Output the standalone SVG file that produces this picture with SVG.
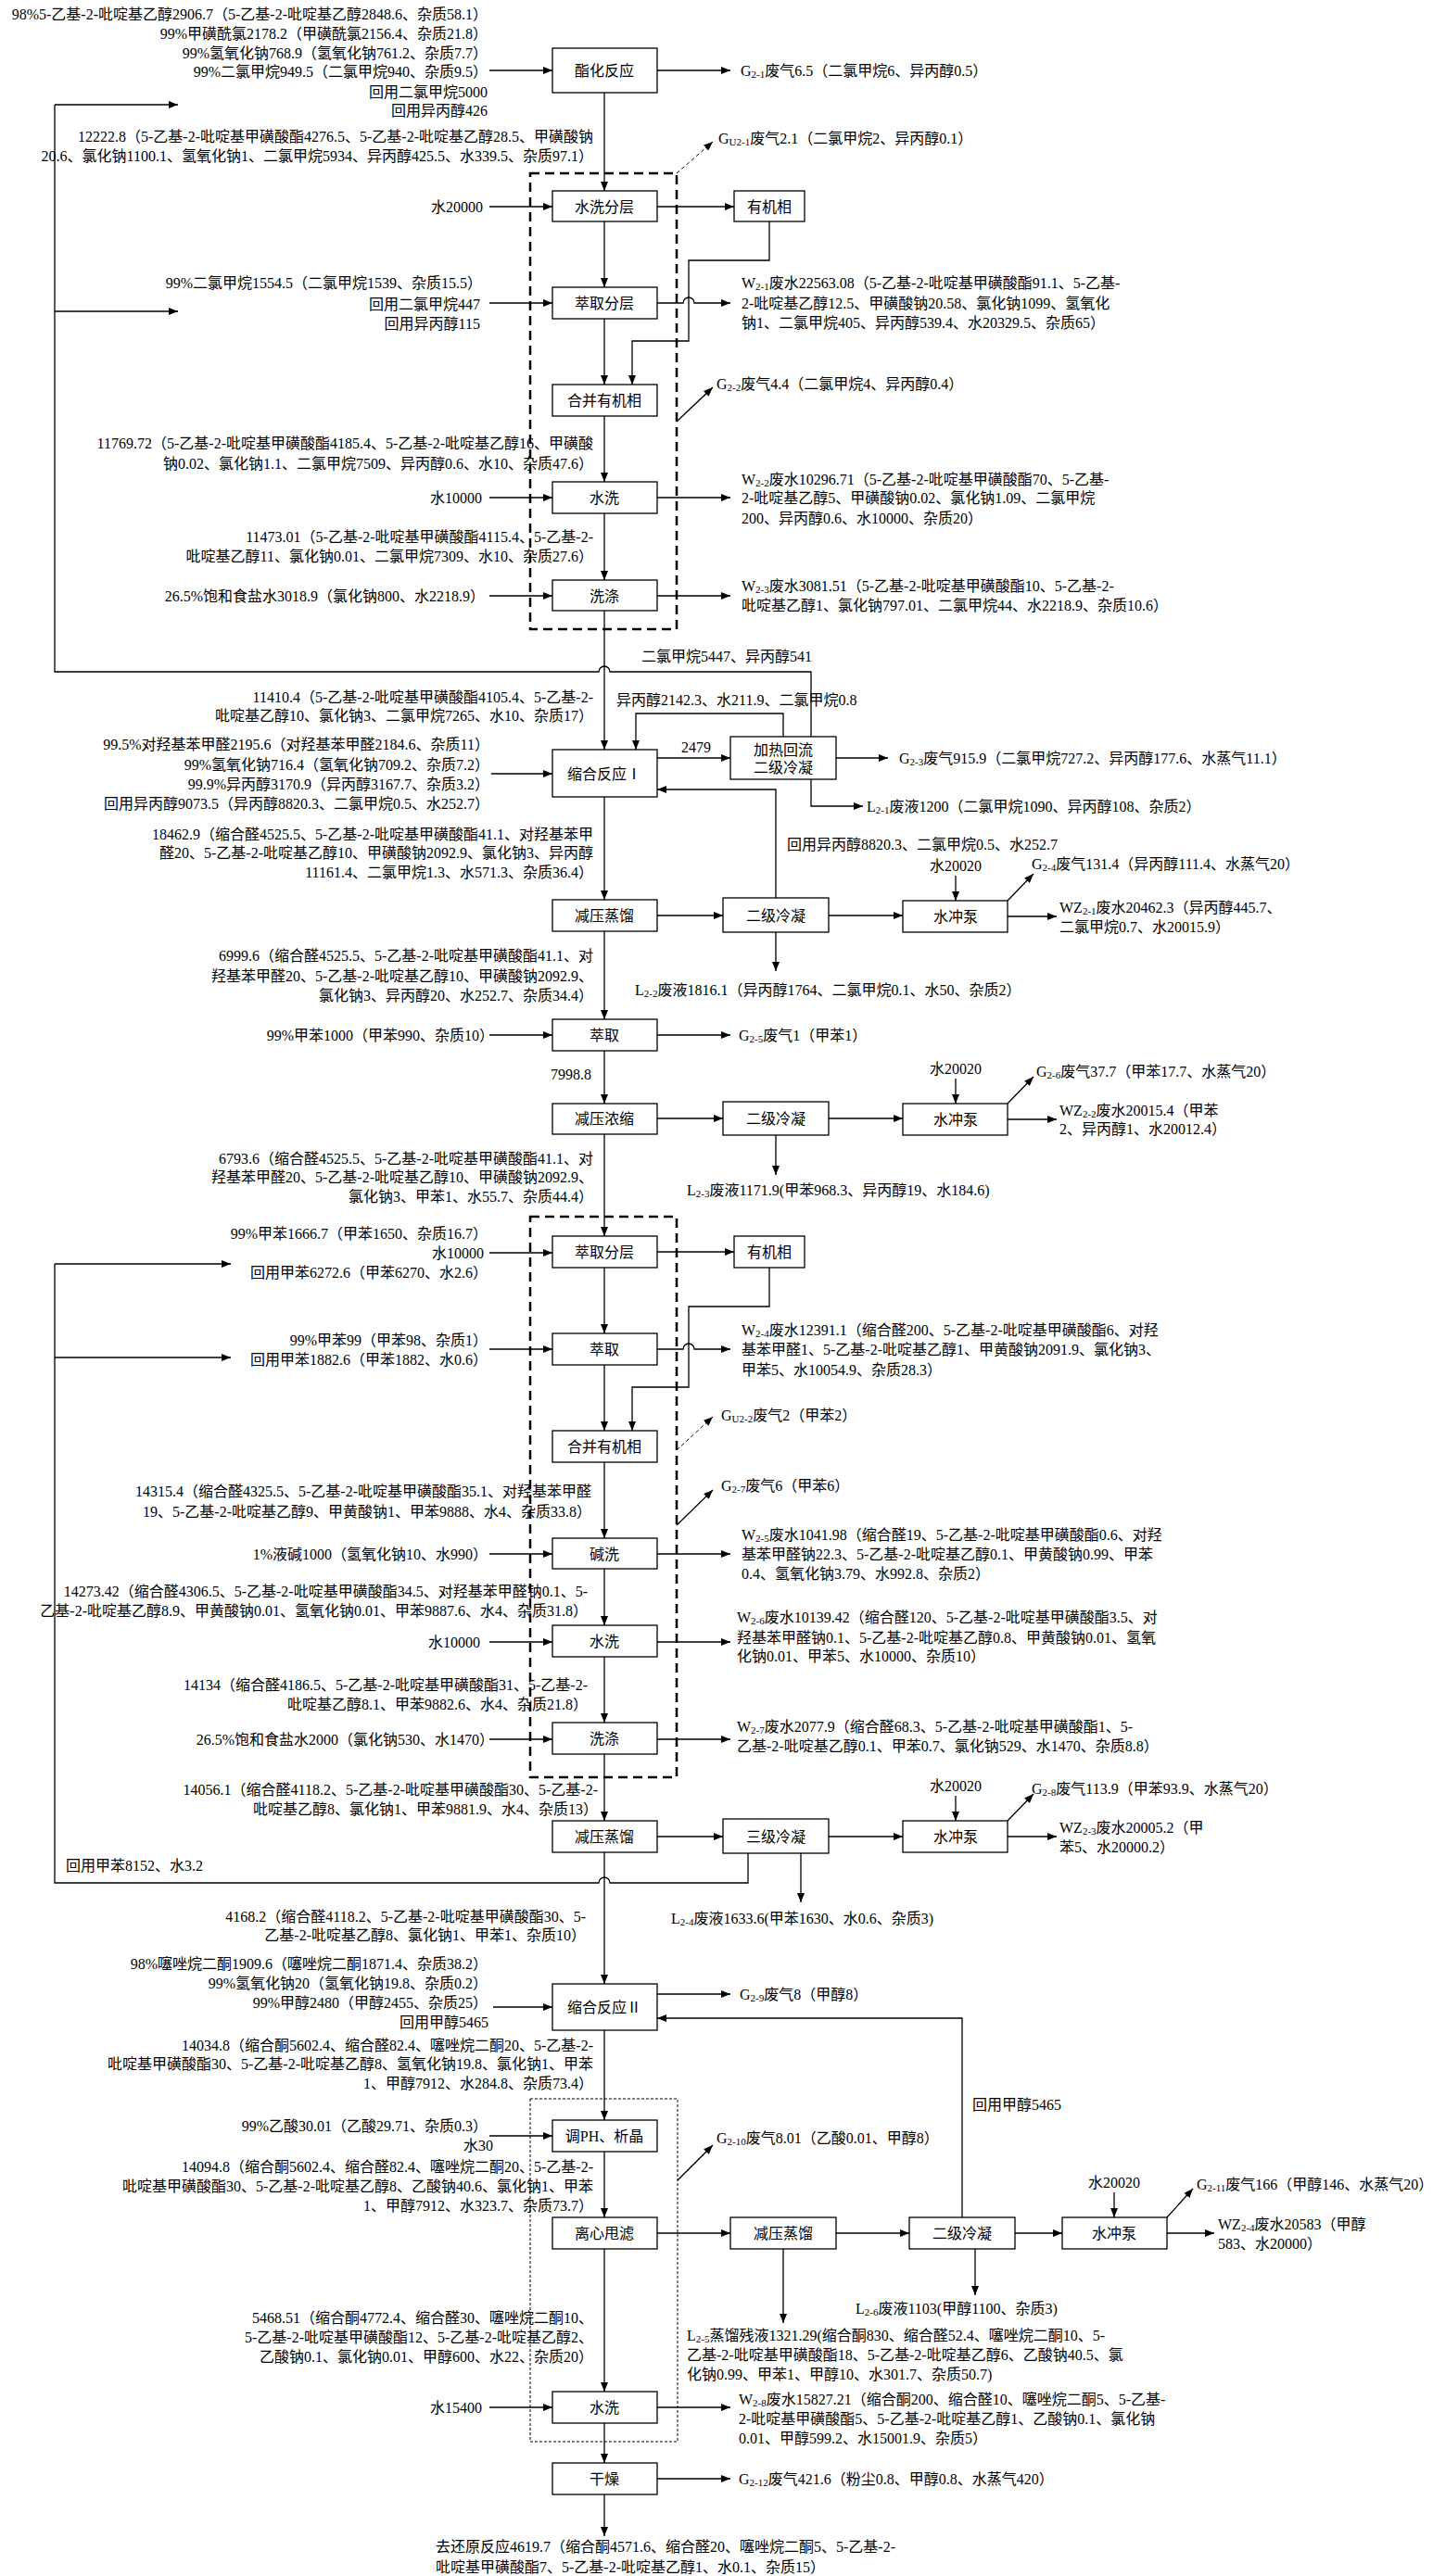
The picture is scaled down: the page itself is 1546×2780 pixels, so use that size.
<svg xmlns="http://www.w3.org/2000/svg" width="1546" height="2780" viewBox="0 0 1546 2780">
<style>
text{font-family:'Liberation Serif','Noto Sans CJK SC',serif;font-size:16px;fill:#000;dominant-baseline:central}
.e{text-anchor:end}
.m{text-anchor:middle}
.s{font-size:11px}
.box{fill:#fff;stroke:#000;stroke-width:1.3}
.ln{fill:none;stroke:#000;stroke-width:1.3}
.ar{marker-end:url(#ah)}
.dl{stroke-dasharray:4 3;stroke-width:1}
.dbox{fill:none;stroke:#000;stroke-width:2.5;stroke-dasharray:10 6}
.dot{fill:none;stroke:#000;stroke-width:1;stroke-dasharray:3 2}
</style>
<defs>
<marker id="ah" markerUnits="userSpaceOnUse" markerWidth="10" markerHeight="8" refX="10" refY="4" orient="auto"><path d="M0,0 L10,4 L0,8 z" fill="#000"/></marker>
</defs>
<rect width="1546" height="2780" fill="#fff"/>

<g id="frames">
<rect class="dbox" x="572" y="187" width="158" height="492"/>
<rect class="dbox" x="572" y="1313" width="158" height="605"/>
<rect class="dot" x="572" y="2265" width="159" height="370"/>
</g>

<g id="connectors">
<!-- main column -->
<path class="ln ar" d="M652,100 V206"/>
<path class="ln ar" d="M652,239 V310"/>
<path class="ln ar" d="M652,344 V415"/>
<path class="ln ar" d="M652,449 V520"/>
<path class="ln ar" d="M652,554 V626"/>
<path class="ln ar" d="M652,659 V809"/>
<path class="ln ar" d="M652,860 V971"/>
<path class="ln ar" d="M652,1005 V1100"/>
<path class="ln ar" d="M652,1134 V1191"/>
<path class="ln ar" d="M652,1224 V1334"/>
<path class="ln ar" d="M652,1368 V1439"/>
<path class="ln ar" d="M652,1473 V1544"/>
<path class="ln ar" d="M652,1578 V1660"/>
<path class="ln ar" d="M652,1693 V1754"/>
<path class="ln ar" d="M652,1788 V1859"/>
<path class="ln ar" d="M652,1893 V1965"/>
<path class="ln ar" d="M652,1999 V2141"/>
<path class="ln ar" d="M652,2191 V2288"/>
<path class="ln ar" d="M652,2322 V2393"/>
<path class="ln ar" d="M652,2427 V2581"/>
<path class="ln ar" d="M652,2615 V2658"/>
<path class="ln ar" d="M652,2692 V2737"/>
<!-- inputs -->
<path class="ln ar" d="M528,76 H596"/>
<path class="ln ar" d="M528,223 H596"/>
<path class="ln ar" d="M528,327 H596"/>
<path class="ln ar" d="M528,537 H596"/>
<path class="ln ar" d="M528,643 H596"/>
<path class="ln ar" d="M530,835 H596"/>
<path class="ln ar" d="M528,1117 H596"/>
<path class="ln ar" d="M528,1352 H596"/>
<path class="ln ar" d="M528,1456 H596"/>
<path class="ln ar" d="M528,1677 H596"/>
<path class="ln ar" d="M528,1772 H596"/>
<path class="ln ar" d="M528,1877 H596"/>
<path class="ln ar" d="M532,2166 H596"/>
<path class="ln ar" d="M528,2305 H596"/>
<path class="ln ar" d="M528,2598 H596"/>
<!-- outputs -->
<path class="ln ar" d="M709,76 H788"/>
<path class="ln ar" d="M709,223 H792"/>
<path class="ln ar" d="M709,327 H737 A6,6 0 0 1 749,327 H788"/>
<path class="ln ar" d="M709,537 H788"/>
<path class="ln ar" d="M709,643 H788"/>
<path class="ln ar" d="M709,818 H788"/>
<path class="ln ar" d="M709,988 H780"/>
<path class="ln ar" d="M894,988 H974"/>
<path class="ln ar" d="M709,1117 H788"/>
<path class="ln ar" d="M709,1207 H780"/>
<path class="ln ar" d="M894,1207 H974"/>
<path class="ln ar" d="M709,1351 H792"/>
<path class="ln ar" d="M709,1456 H737 A6,6 0 0 1 749,1456 H788"/>
<path class="ln ar" d="M709,1677 H788"/>
<path class="ln ar" d="M709,1772 H788"/>
<path class="ln ar" d="M709,1877 H788"/>
<path class="ln ar" d="M709,1982 H780"/>
<path class="ln ar" d="M894,1982 H974"/>
<path class="ln ar" d="M709,2152 H788"/>
<path class="ln ar" d="M709,2410 H788"/>
<path class="ln ar" d="M902,2410 H981"/>
<path class="ln ar" d="M1095,2410 H1146"/>
<path class="ln ar" d="M709,2598 H788"/>
<path class="ln ar" d="M709,2675 H788"/>
<!-- organic phase returns -->
<path class="ln ar" d="M830,239 V281 H743 V368 H682 V415"/>
<path class="ln ar" d="M830,1368 V1410 H743 V1497 H682 V1544"/>
<!-- gas arrows -->
<path class="ln ar dl" d="M730,187 L769,153"/>
<path class="ln ar" d="M730,455 L769,418"/>
<path class="ln ar dl" d="M730,1565 L769,1529"/>
<path class="ln ar" d="M730,1646 L769,1608"/>
<path class="ln ar" d="M731,2353 L769,2315"/>
<!-- reflux section -->
<path class="ln" d="M875,795 V725 H658 A6,6 0 0 0 646,725 H59 V113"/>
<path class="ln ar" d="M59,113 H192"/>
<path class="ln ar" d="M59,336 H192"/>
<path class="ln ar" d="M845,795 V770 H686 V809"/>
<path class="ln ar" d="M875,841 V870 H931"/>
<path class="ln ar" d="M902,818 H958"/>
<path class="ln ar" d="M837,969 V852 H709"/>
<!-- pump 1 -->
<path class="ln ar" d="M1031,945 V972"/>
<path class="ln ar" d="M1087,972 L1115,943"/>
<path class="ln ar" d="M1087,989 H1140"/>
<path class="ln ar" d="M837,1006 V1048"/>
<!-- pump 2 -->
<path class="ln ar" d="M1031,1164 V1191"/>
<path class="ln ar" d="M1087,1191 L1115,1162"/>
<path class="ln ar" d="M1087,1208 H1140"/>
<path class="ln ar" d="M837,1225 V1268"/>
<!-- pump 3 / toluene recycle -->
<path class="ln ar" d="M1031,1938 V1965"/>
<path class="ln ar" d="M1087,1965 L1115,1936"/>
<path class="ln ar" d="M1087,1982 H1140"/>
<path class="ln ar" d="M864,2000 V2053"/>
<path class="ln" d="M807,2000 V2032 H658 A6,6 0 0 0 646,2032 H59 V1364"/>
<path class="ln ar" d="M59,1364 H249"/>
<path class="ln ar" d="M59,1465 H249"/>
<!-- pump 4 / methanol recycle -->
<path class="ln ar" d="M1202,2366 V2393"/>
<path class="ln ar" d="M1259,2393 L1287,2362"/>
<path class="ln ar" d="M1259,2410 H1310"/>
<path class="ln ar" d="M1052,2427 V2477"/>
<path class="ln ar" d="M845,2427 V2507"/>
<path class="ln ar" d="M1038,2393 V2178 H709"/>
</g>

<g id="n1"><rect class="box" x="596" y="52" width="113" height="48"/><text class="m" x="652" y="76">酯化反应</text></g>
<g id="n2"><rect class="box" x="596" y="206" width="113" height="33"/><text class="m" x="652" y="223">水洗分层</text></g>
<g id="n3"><rect class="box" x="792" y="206" width="76" height="33"/><text class="m" x="830" y="223">有机相</text></g>
<g id="n4"><rect class="box" x="596" y="310" width="113" height="34"/><text class="m" x="652" y="327">萃取分层</text></g>
<g id="n5"><rect class="box" x="596" y="415" width="113" height="34"/><text class="m" x="652" y="432">合并有机相</text></g>
<g id="n6"><rect class="box" x="596" y="520" width="113" height="34"/><text class="m" x="652" y="537">水洗</text></g>
<g id="n7"><rect class="box" x="596" y="626" width="113" height="33"/><text class="m" x="652" y="643">洗涤</text></g>
<g id="n8"><rect class="box" x="596" y="809" width="113" height="51"/><text class="m" x="652" y="835">缩合反应Ⅰ</text></g>
<g id="n9"><rect class="box" x="788" y="795" width="114" height="46"/><text class="m" x="845" y="809">加热回流</text><text class="m" x="845" y="828">二级冷凝</text></g>
<g id="n10"><rect class="box" x="596" y="971" width="113" height="34"/><text class="m" x="652" y="988">减压蒸馏</text></g>
<g id="n11"><rect class="box" x="780" y="969" width="114" height="37"/><text class="m" x="837" y="988">二级冷凝</text></g>
<g id="n12"><rect class="box" x="974" y="972" width="113" height="34"/><text class="m" x="1031" y="989">水冲泵</text></g>
<g id="n13"><rect class="box" x="596" y="1100" width="113" height="34"/><text class="m" x="652" y="1117">萃取</text></g>
<g id="n14"><rect class="box" x="596" y="1191" width="113" height="33"/><text class="m" x="652" y="1207">减压浓缩</text></g>
<g id="n15"><rect class="box" x="780" y="1189" width="114" height="36"/><text class="m" x="837" y="1207">二级冷凝</text></g>
<g id="n16"><rect class="box" x="974" y="1191" width="113" height="34"/><text class="m" x="1031" y="1208">水冲泵</text></g>
<g id="n17"><rect class="box" x="596" y="1334" width="113" height="34"/><text class="m" x="652" y="1351">萃取分层</text></g>
<g id="n18"><rect class="box" x="792" y="1334" width="76" height="34"/><text class="m" x="830" y="1351">有机相</text></g>
<g id="n19"><rect class="box" x="596" y="1439" width="113" height="34"/><text class="m" x="652" y="1456">萃取</text></g>
<g id="n20"><rect class="box" x="596" y="1544" width="113" height="34"/><text class="m" x="652" y="1561">合并有机相</text></g>
<g id="n21"><rect class="box" x="596" y="1660" width="113" height="33"/><text class="m" x="652" y="1677">碱洗</text></g>
<g id="n22"><rect class="box" x="596" y="1754" width="113" height="34"/><text class="m" x="652" y="1771">水洗</text></g>
<g id="n23"><rect class="box" x="596" y="1859" width="113" height="34"/><text class="m" x="652" y="1876">洗涤</text></g>
<g id="n24"><rect class="box" x="596" y="1965" width="113" height="34"/><text class="m" x="652" y="1982">减压蒸馏</text></g>
<g id="n25"><rect class="box" x="780" y="1963" width="114" height="37"/><text class="m" x="837" y="1982">三级冷凝</text></g>
<g id="n26"><rect class="box" x="974" y="1965" width="113" height="34"/><text class="m" x="1031" y="1982">水冲泵</text></g>
<g id="n27"><rect class="box" x="596" y="2141" width="113" height="50"/><text class="m" x="652" y="2166">缩合反应Ⅱ</text></g>
<g id="n28"><rect class="box" x="596" y="2288" width="113" height="34"/><text class="m" x="652" y="2305">调PH、析晶</text></g>
<g id="n29"><rect class="box" x="596" y="2393" width="113" height="34"/><text class="m" x="652" y="2410">离心甩滤</text></g>
<g id="n30"><rect class="box" x="788" y="2393" width="114" height="34"/><text class="m" x="845" y="2410">减压蒸馏</text></g>
<g id="n31"><rect class="box" x="981" y="2393" width="114" height="34"/><text class="m" x="1038" y="2410">二级冷凝</text></g>
<g id="n32"><rect class="box" x="1146" y="2393" width="113" height="34"/><text class="m" x="1202" y="2410">水冲泵</text></g>
<g id="n33"><rect class="box" x="596" y="2581" width="113" height="34"/><text class="m" x="652" y="2598">水洗</text></g>
<g id="n34"><rect class="box" x="596" y="2658" width="113" height="34"/><text class="m" x="652" y="2675">干燥</text></g>

<g id="labels-left">
<text class="e" x="526" y="15">98%5-乙基-2-吡啶基乙醇2906.7（5-乙基-2-吡啶基乙醇2848.6、杂质58.1）</text>
<text class="e" x="526" y="36">99%甲磺酰氯2178.2（甲磺酰氯2156.4、杂质21.8）</text>
<text class="e" x="526" y="57">99%氢氧化钠768.9（氢氧化钠761.2、杂质7.7）</text>
<text class="e" x="526" y="77">99%二氯甲烷949.5（二氯甲烷940、杂质9.5）</text>
<text class="e" x="526" y="99">回用二氯甲烷5000</text>
<text class="e" x="526" y="119">回用异丙醇426</text>
<text class="e" x="640" y="147">12222.8（5-乙基-2-吡啶基甲磺酸酯4276.5、5-乙基-2-吡啶基乙醇28.5、甲磺酸钠</text>
<text class="e" x="640" y="168">20.6、氯化钠1100.1、氢氧化钠1、二氯甲烷5934、异丙醇425.5、水339.5、杂质97.1）</text>
<text class="e" x="521" y="223">水20000</text>
<text class="e" x="520" y="305">99%二氯甲烷1554.5（二氯甲烷1539、杂质15.5）</text>
<text class="e" x="518" y="328">回用二氯甲烷447</text>
<text class="e" x="518" y="349">回用异丙醇115</text>
<text class="e" x="640" y="478">11769.72（5-乙基-2-吡啶基甲磺酸酯4185.4、5-乙基-2-吡啶基乙醇16、甲磺酸</text>
<text class="e" x="640" y="500">钠0.02、氯化钠1.1、二氯甲烷7509、异丙醇0.6、水10、杂质47.6）</text>
<text class="e" x="520" y="537">水10000</text>
<text class="e" x="640" y="579">11473.01（5-乙基-2-吡啶基甲磺酸酯4115.4、5-乙基-2-</text>
<text class="e" x="640" y="600">吡啶基乙醇11、氯化钠0.01、二氯甲烷7309、水10、杂质27.6）</text>
<text class="e" x="523" y="643">26.5%饱和食盐水3018.9（氯化钠800、水2218.9）</text>
<text x="692" y="708">二氯甲烷5447、异丙醇541</text>
<text class="e" x="640" y="752">11410.4（5-乙基-2-吡啶基甲磺酸酯4105.4、5-乙基-2-</text>
<text class="e" x="640" y="772">吡啶基乙醇10、氯化钠3、二氯甲烷7265、水10、杂质17）</text>
<text x="665" y="755">异丙醇2142.3、水211.9、二氯甲烷0.8</text>
<text x="735" y="806">2479</text>
<text class="e" x="528" y="803">99.5%对羟基苯甲醛2195.6（对羟基苯甲醛2184.6、杂质11）</text>
<text class="e" x="528" y="825">99%氢氧化钠716.4（氢氧化钠709.2、杂质7.2）</text>
<text class="e" x="528" y="846">99.9%异丙醇3170.9（异丙醇3167.7、杂质3.2）</text>
<text class="e" x="528" y="867">回用异丙醇9073.5（异丙醇8820.3、二氯甲烷0.5、水252.7）</text>
<text class="e" x="640" y="900">18462.9（缩合醛4525.5、5-乙基-2-吡啶基甲磺酸酯41.1、对羟基苯甲</text>
<text class="e" x="640" y="920">醛20、5-乙基-2-吡啶基乙醇10、甲磺酸钠2092.9、氯化钠3、异丙醇</text>
<text class="e" x="640" y="941">11161.4、二氯甲烷1.3、水571.3、杂质36.4）</text>
<text class="e" x="640" y="1031">6999.6（缩合醛4525.5、5-乙基-2-吡啶基甲磺酸酯41.1、对</text>
<text class="e" x="640" y="1053">羟基苯甲醛20、5-乙基-2-吡啶基乙醇10、甲磺酸钠2092.9、</text>
<text class="e" x="640" y="1074">氯化钠3、异丙醇20、水252.7、杂质34.4）</text>
<text class="e" x="533" y="1117">99%甲苯1000（甲苯990、杂质10）</text>
<text x="594" y="1159">7998.8</text>
<text class="e" x="640" y="1250">6793.6（缩合醛4525.5、5-乙基-2-吡啶基甲磺酸酯41.1、对</text>
<text class="e" x="640" y="1270">羟基苯甲醛20、5-乙基-2-吡啶基乙醇10、甲磺酸钠2092.9、</text>
<text class="e" x="640" y="1291">氯化钠3、甲苯1、水55.7、杂质44.4）</text>
<text class="e" x="526" y="1331">99%甲苯1666.7（甲苯1650、杂质16.7）</text>
<text class="e" x="522" y="1352">水10000</text>
<text class="e" x="526" y="1373">回用甲苯6272.6（甲苯6270、水2.6）</text>
<text class="e" x="526" y="1446">99%甲苯99（甲苯98、杂质1）</text>
<text class="e" x="526" y="1467">回用甲苯1882.6（甲苯1882、水0.6）</text>
<text class="e" x="638" y="1609">14315.4（缩合醛4325.5、5-乙基-2-吡啶基甲磺酸酯35.1、对羟基苯甲醛</text>
<text class="e" x="638" y="1631">19、5-乙基-2-吡啶基乙醇9、甲黄酸钠1、甲苯9888、水4、杂质33.8）</text>
<text class="e" x="526" y="1677">1%液碱1000（氢氧化钠10、水990）</text>
<text class="e" x="634" y="1717">14273.42（缩合醛4306.5、5-乙基-2-吡啶基甲磺酸酯34.5、对羟基苯甲醛钠0.1、5-</text>
<text class="e" x="634" y="1738">乙基-2-吡啶基乙醇8.9、甲黄酸钠0.01、氢氧化钠0.01、甲苯9887.6、水4、杂质31.8）</text>
<text class="e" x="518" y="1772">水10000</text>
<text class="e" x="634" y="1818">14134（缩合醛4186.5、5-乙基-2-吡啶基甲磺酸酯31、5-乙基-2-</text>
<text class="e" x="634" y="1839">吡啶基乙醇8.1、甲苯9882.6、水4、杂质21.8）</text>
<text class="e" x="533" y="1877">26.5%饱和食盐水2000（氯化钠530、水1470）</text>
<text class="e" x="645" y="1931">14056.1（缩合醛4118.2、5-乙基-2-吡啶基甲磺酸酯30、5-乙基-2-</text>
<text class="e" x="645" y="1952">吡啶基乙醇8、氯化钠1、甲苯9881.9、水4、杂质13）</text>
<text x="71" y="2013">回用甲苯8152、水3.2</text>
<text class="e" x="632" y="2068">4168.2（缩合醛4118.2、5-乙基-2-吡啶基甲磺酸酯30、5-</text>
<text class="e" x="632" y="2088">乙基-2-吡啶基乙醇8、氯化钠1、甲苯1、杂质10）</text>
<text class="e" x="526" y="2119">98%噻唑烷二酮1909.6（噻唑烷二酮1871.4、杂质38.2）</text>
<text class="e" x="526" y="2140">99%氢氧化钠20（氢氧化钠19.8、杂质0.2）</text>
<text class="e" x="526" y="2161">99%甲醇2480（甲醇2455、杂质25）</text>
<text class="e" x="527" y="2182">回用甲醇5465</text>
<text class="e" x="640" y="2207">14034.8（缩合酮5602.4、缩合醛82.4、噻唑烷二酮20、5-乙基-2-</text>
<text class="e" x="640" y="2227">吡啶基甲磺酸酯30、5-乙基-2-吡啶基乙醇8、氢氧化钠19.8、氯化钠1、甲苯</text>
<text class="e" x="640" y="2248">1、甲醇7912、水284.8、杂质73.4）</text>
<text class="e" x="526" y="2294">99%乙酸30.01（乙酸29.71、杂质0.3）</text>
<text class="e" x="532" y="2315">水30</text>
<text class="e" x="640" y="2338">14094.8（缩合酮5602.4、缩合醛82.4、噻唑烷二酮20、5-乙基-2-</text>
<text class="e" x="640" y="2359">吡啶基甲磺酸酯30、5-乙基-2-吡啶基乙醇8、乙酸钠40.6、氯化钠1、甲苯</text>
<text class="e" x="640" y="2380">1、甲醇7912、水323.7、杂质73.7）</text>
<text class="e" x="640" y="2501">5468.51（缩合酮4772.4、缩合醛30、噻唑烷二酮10、</text>
<text class="e" x="640" y="2522">5-乙基-2-吡啶基甲磺酸酯12、5-乙基-2-吡啶基乙醇2、</text>
<text class="e" x="640" y="2543">乙酸钠0.1、氯化钠0.01、甲醇600、水22、杂质20）</text>
<text class="e" x="520" y="2598">水15400</text>
<text x="470" y="2748">去还原反应4619.7（缩合酮4571.6、缩合醛20、噻唑烷二酮5、5-乙基-2-</text>
<text x="470" y="2770">吡啶基甲磺酸酯7、5-乙基-2-吡啶基乙醇1、水0.1、杂质15）</text>
</g>

<g id="labels-right">
<text x="799" y="76">G<tspan class="s" dy="4">2-1</tspan><tspan dy="-4">废气6.5（二氯甲烷6、异丙醇0.5）</tspan></text>
<text x="775" y="149">G<tspan class="s" dy="4">U2-1</tspan><tspan dy="-4">废气2.1（二氯甲烷2、异丙醇0.1）</tspan></text>
<text x="800" y="305">W<tspan class="s" dy="4">2-1</tspan><tspan dy="-4">废水22563.08（5-乙基-2-吡啶基甲磺酸酯91.1、5-乙基-</tspan></text>
<text x="800" y="327">2-吡啶基乙醇12.5、甲磺酸钠20.58、氯化钠1099、氢氧化</text>
<text x="800" y="348">钠1、二氯甲烷405、异丙醇539.4、水20329.5、杂质65）</text>
<text x="773" y="414">G<tspan class="s" dy="4">2-2</tspan><tspan dy="-4">废气4.4（二氯甲烷4、异丙醇0.4）</tspan></text>
<text x="800" y="517">W<tspan class="s" dy="4">2-2</tspan><tspan dy="-4">废水10296.71（5-乙基-2-吡啶基甲磺酸酯70、5-乙基-</tspan></text>
<text x="800" y="537">2-吡啶基乙醇5、甲磺酸钠0.02、氯化钠1.09、二氯甲烷</text>
<text x="800" y="559">200、异丙醇0.6、水10000、杂质20）</text>
<text x="800" y="632">W<tspan class="s" dy="4">2-3</tspan><tspan dy="-4">废水3081.51（5-乙基-2-吡啶基甲磺酸酯10、5-乙基-2-</tspan></text>
<text x="800" y="653">吡啶基乙醇1、氯化钠797.01、二氯甲烷44、水2218.9、杂质10.6）</text>
<text x="970" y="818">G<tspan class="s" dy="4">2-3</tspan><tspan dy="-4">废气915.9（二氯甲烷727.2、异丙醇177.6、水蒸气11.1）</tspan></text>
<text x="935" y="870">L<tspan class="s" dy="4">2-1</tspan><tspan dy="-4">废液1200（二氯甲烷1090、异丙醇108、杂质2）</tspan></text>
<text x="849" y="911">回用异丙醇8820.3、二氯甲烷0.5、水252.7</text>
<text class="m" x="1031" y="934">水20020</text>
<text x="1113" y="932">G<tspan class="s" dy="4">2-4</tspan><tspan dy="-4">废气131.4（异丙醇111.4、水蒸气20）</tspan></text>
<text x="1143" y="979">WZ<tspan class="s" dy="4">2-1</tspan><tspan dy="-4">废水20462.3（异丙醇445.7、</tspan></text>
<text x="1143" y="1000">二氯甲烷0.7、水20015.9）</text>
<text x="685" y="1068">L<tspan class="s" dy="4">2-2</tspan><tspan dy="-4">废液1816.1（异丙醇1764、二氯甲烷0.1、水50、杂质2）</tspan></text>
<text x="797" y="1117">G<tspan class="s" dy="4">2-5</tspan><tspan dy="-4">废气1（甲苯1）</tspan></text>
<text class="m" x="1031" y="1153">水20020</text>
<text x="1118" y="1156">G<tspan class="s" dy="4">2-6</tspan><tspan dy="-4">废气37.7（甲苯17.7、水蒸气20）</tspan></text>
<text x="1143" y="1198">WZ<tspan class="s" dy="4">2-2</tspan><tspan dy="-4">废水20015.4（甲苯</tspan></text>
<text x="1143" y="1218">2、异丙醇1、水20012.4）</text>
<text x="741" y="1284">L<tspan class="s" dy="4">2-3</tspan><tspan dy="-4">废液1171.9(甲苯968.3、异丙醇19、水184.6)</tspan></text>
<text x="800" y="1435">W<tspan class="s" dy="4">2-4</tspan><tspan dy="-4">废水12391.1（缩合醛200、5-乙基-2-吡啶基甲磺酸酯6、对羟</tspan></text>
<text x="800" y="1456">基苯甲醛1、5-乙基-2-吡啶基乙醇1、甲黄酸钠2091.9、氯化钠3、</text>
<text x="800" y="1478">甲苯5、水10054.9、杂质28.3）</text>
<text x="778" y="1527">G<tspan class="s" dy="4">U2-2</tspan><tspan dy="-4">废气2（甲苯2）</tspan></text>
<text x="778" y="1603">G<tspan class="s" dy="4">2-7</tspan><tspan dy="-4">废气6（甲苯6）</tspan></text>
<text x="800" y="1656">W<tspan class="s" dy="4">2-5</tspan><tspan dy="-4">废水1041.98（缩合醛19、5-乙基-2-吡啶基甲磺酸酯0.6、对羟</tspan></text>
<text x="800" y="1677">基苯甲醛钠22.3、5-乙基-2-吡啶基乙醇0.1、甲黄酸钠0.99、甲苯</text>
<text x="800" y="1698">0.4、氢氧化钠3.79、水992.8、杂质2）</text>
<text x="795" y="1745">W<tspan class="s" dy="4">2-6</tspan><tspan dy="-4">废水10139.42（缩合醛120、5-乙基-2-吡啶基甲磺酸酯3.5、对</tspan></text>
<text x="795" y="1767">羟基苯甲醛钠0.1、5-乙基-2-吡啶基乙醇0.8、甲黄酸钠0.01、氢氧</text>
<text x="795" y="1787">化钠0.01、甲苯5、水10000、杂质10）</text>
<text x="795" y="1863">W<tspan class="s" dy="4">2-7</tspan><tspan dy="-4">废水2077.9（缩合醛68.3、5-乙基-2-吡啶基甲磺酸酯1、5-</tspan></text>
<text x="795" y="1884">乙基-2-吡啶基乙醇0.1、甲苯0.7、氯化钠529、水1470、杂质8.8）</text>
<text class="m" x="1031" y="1927">水20020</text>
<text x="1113" y="1930">G<tspan class="s" dy="4">2-8</tspan><tspan dy="-4">废气113.9（甲苯93.9、水蒸气20）</tspan></text>
<text x="1143" y="1972">WZ<tspan class="s" dy="4">2-3</tspan><tspan dy="-4">废水20005.2（甲</tspan></text>
<text x="1143" y="1993">苯5、水20000.2）</text>
<text x="724" y="2070">L<tspan class="s" dy="4">2-4</tspan><tspan dy="-4">废液1633.6(甲苯1630、水0.6、杂质3)</tspan></text>
<text x="798" y="2152">G<tspan class="s" dy="4">2-9</tspan><tspan dy="-4">废气8（甲醇8）</tspan></text>
<text x="1049" y="2271">回用甲醇5465</text>
<text x="773" y="2307">G<tspan class="s" dy="4">2-10</tspan><tspan dy="-4">废气8.01（乙酸0.01、甲醇8）</tspan></text>
<text class="m" x="1202" y="2355">水20020</text>
<text x="1291" y="2357">G<tspan class="s" dy="4">2-11</tspan><tspan dy="-4">废气166（甲醇146、水蒸气20）</tspan></text>
<text x="1314" y="2400">WZ<tspan class="s" dy="4">2-4</tspan><tspan dy="-4">废水20583（甲醇</tspan></text>
<text x="1314" y="2421">583、水20000）</text>
<text x="923" y="2491">L<tspan class="s" dy="4">2-6</tspan><tspan dy="-4">废液1103(甲醇1100、杂质3)</tspan></text>
<text x="741" y="2520">L<tspan class="s" dy="4">2-5</tspan><tspan dy="-4">蒸馏残液1321.29(缩合酮830、缩合醛52.4、噻唑烷二酮10、5-</tspan></text>
<text x="741" y="2541">乙基-2-吡啶基甲磺酸酯18、5-乙基-2-吡啶基乙醇6、乙酸钠40.5、氯</text>
<text x="741" y="2562">化钠0.99、甲苯1、甲醇10、水301.7、杂质50.7)</text>
<text x="797" y="2589">W<tspan class="s" dy="4">2-8</tspan><tspan dy="-4">废水15827.21（缩合酮200、缩合醛10、噻唑烷二酮5、5-乙基-</tspan></text>
<text x="797" y="2610">2-吡啶基甲磺酸酯5、5-乙基-2-吡啶基乙醇1、乙酸钠0.1、氯化钠</text>
<text x="797" y="2631">0.01、甲醇599.2、水15001.9、杂质5）</text>
<text x="797" y="2675">G<tspan class="s" dy="4">2-12</tspan><tspan dy="-4">废气421.6（粉尘0.8、甲醇0.8、水蒸气420）</tspan></text>
</g>
</svg>
